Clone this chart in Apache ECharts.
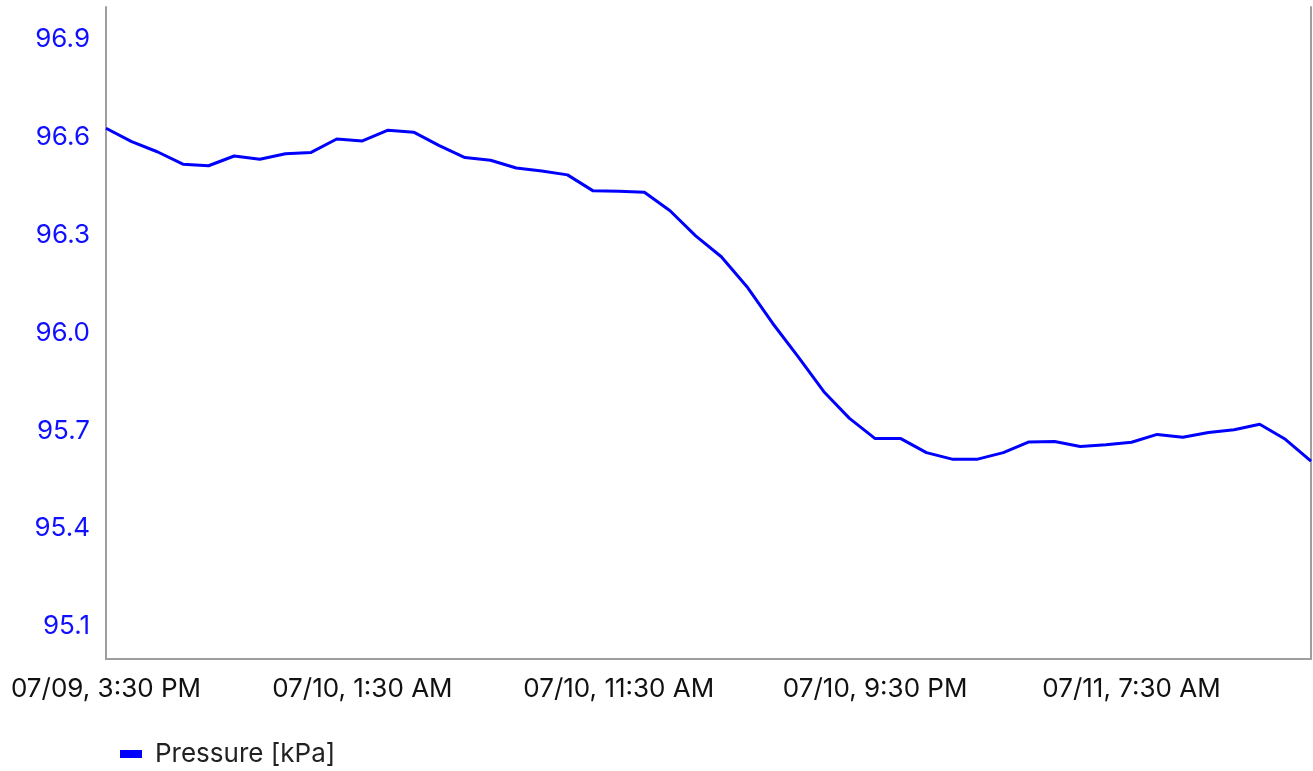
<!DOCTYPE html>
<html>
<head>
<meta charset="utf-8">
<title>Pressure</title>
<script src="https://cdn.jsdelivr.net/npm/echarts@6/dist/echarts.min.js"></script>
<style>
  html, body { margin: 0; padding: 0; background: #fff; }
  #chart { width: 1313px; height: 771px; }
</style>
</head>
<body>
<div id="chart"></div>
<script>
// hourly readings, 07/09 3:30 PM .. 07/11 2:30 PM
const times = [
  '07/09, 3:30 PM', '07/09, 4:30 PM', '07/09, 5:30 PM', '07/09, 6:30 PM', '07/09, 7:30 PM', '07/09, 8:30 PM',
  '07/09, 9:30 PM', '07/09, 10:30 PM', '07/09, 11:30 PM', '07/10, 12:30 AM', '07/10, 1:30 AM', '07/10, 2:30 AM',
  '07/10, 3:30 AM', '07/10, 4:30 AM', '07/10, 5:30 AM', '07/10, 6:30 AM', '07/10, 7:30 AM', '07/10, 8:30 AM',
  '07/10, 9:30 AM', '07/10, 10:30 AM', '07/10, 11:30 AM', '07/10, 12:30 PM', '07/10, 1:30 PM', '07/10, 2:30 PM',
  '07/10, 3:30 PM', '07/10, 4:30 PM', '07/10, 5:30 PM', '07/10, 6:30 PM', '07/10, 7:30 PM', '07/10, 8:30 PM',
  '07/10, 9:30 PM', '07/10, 10:30 PM', '07/10, 11:30 PM', '07/11, 12:30 AM', '07/11, 1:30 AM', '07/11, 2:30 AM',
  '07/11, 3:30 AM', '07/11, 4:30 AM', '07/11, 5:30 AM', '07/11, 6:30 AM', '07/11, 7:30 AM', '07/11, 8:30 AM',
  '07/11, 9:30 AM', '07/11, 10:30 AM', '07/11, 11:30 AM', '07/11, 12:30 PM', '07/11, 1:30 PM', '07/11, 2:30 PM'
]
const pressure = [
  96.628, 96.587, 96.556, 96.518, 96.513, 96.543, 96.533, 96.550, 96.554, 96.595,
  96.589, 96.622, 96.616, 96.575, 96.538, 96.530, 96.506, 96.497, 96.485, 96.436,
  96.435, 96.432, 96.375, 96.298, 96.234, 96.142, 96.030, 95.927, 95.820, 95.738,
  95.676, 95.676, 95.633, 95.613, 95.613, 95.633, 95.666, 95.667, 95.652, 95.657,
  95.665, 95.689, 95.680, 95.695, 95.703, 95.720, 95.674, 95.607
]
const yTicks = [95.1, 95.4, 95.7, 96.0, 96.3, 96.6, 96.9]

const font = 'Inter, "Noto Sans", sans-serif'
let chart = echarts.init(document.getElementById('chart'))
let option = {
  animation: false,
  textStyle: { fontFamily: font },
  grid: { left: 106, right: 2, top: 7, bottom: 112 },
  legend: {
    left: 115,
    top: 736,
    icon: 'rect',
    itemWidth: 22,
    itemHeight: 8,
    textStyle: { fontSize: 26, color: '#222', fontFamily: font, padding: [0, 0, 0, 8] },
    data: ['Pressure [kPa]']
  },
  xAxis: {
    type: 'category',
    boundaryGap: false,
    data: times,
    axisLine: { lineStyle: { color: '#9e9e9e', width: 2 } },
    axisTick: { show: false },
    splitLine: { show: false },
    axisLabel: {
      // one label every 10 hours
      interval: (i) => i % 10 === 0,
      hideOverlap: false,
      margin: 17,
      fontSize: 26,
      color: '#111',
      fontFamily: font
    }
  },
  yAxis: [{
    type: 'value',
    min: 95,
    max: 97,
    axisLine: { show: true, lineStyle: { color: '#9e9e9e', width: 2 } },
    axisTick: { show: false },
    splitLine: { show: false },
    axisLabel: {
      customValues: yTicks,
      formatter: (v) => v.toFixed(1),
      margin: 16,
      fontSize: 26,
      color: '#1010ff',
      fontFamily: font
    }
  }, {
    type: 'value',
    position: 'right',
    min: 95,
    max: 97,
    axisLine: { show: true, lineStyle: { color: '#9e9e9e', width: 2 } },
    axisTick: { show: false },
    axisLabel: { show: false },
    splitLine: { show: false }
  }],
  series: [{
    name: 'Pressure [kPa]',
    type: 'line',
    data: pressure,
    symbol: 'none',
    color: '#0000ff',
    lineStyle: { width: 3, color: '#0000ff' }
  }]
}
chart.setOption(option)
</script>
</body>
</html>
